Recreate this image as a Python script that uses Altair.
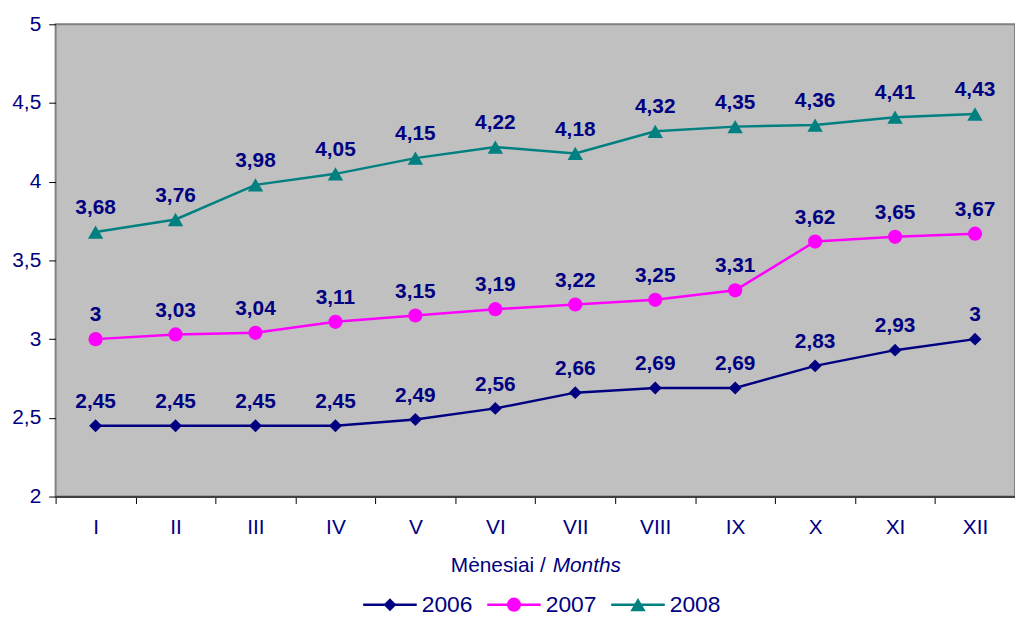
import altair as alt
import pandas as pd

months = ["I", "II", "III", "IV", "V", "VI", "VII", "VIII", "IX", "X", "XI", "XII"]
years = ["2006", "2007", "2008"]
v2006 = [2.45, 2.45, 2.45, 2.45, 2.49, 2.56, 2.66, 2.69, 2.69, 2.83, 2.93, 3]
v2007 = [3, 3.03, 3.04, 3.11, 3.15, 3.19, 3.22, 3.25, 3.31, 3.62, 3.65, 3.67]
v2008 = [3.68, 3.76, 3.98, 4.05, 4.15, 4.22, 4.18, 4.32, 4.35, 4.36, 4.41, 4.43]
y_ticks = [2, 2.5, 3, 3.5, 4, 4.5, 5]

rows = []
for yr, vals in zip(years, [v2006, v2007, v2008]):
    for m, v in zip(months, vals):
        rows.append({"month": m, "year": yr, "value": v})
df = pd.DataFrame(rows)
df_leg = pd.DataFrame({"year": years})

FONT = "Liberation Sans, Arial, sans-serif"
NAVY = "#000080"
colors = ["#000080", "#FF00FF", "#008080"]
shapes = ["diamond", "circle", "triangle-up"]
sizes = [170, 240, 230]

color = alt.Color("year:N", scale=alt.Scale(domain=years, range=colors), legend=None)
shape = alt.Shape("year:N", scale=alt.Scale(domain=years, range=shapes), legend=None)
size = alt.Size("year:N", scale=alt.Scale(domain=years, range=sizes), legend=None)

x = alt.X(
    "month:N", sort=months, title=None,
    scale=alt.Scale(type="band", domain=months, paddingInner=0, paddingOuter=0),
    axis=alt.Axis(labelAngle=0, tickBand="extent", grid=False, tickSize=7, tickColor="#000000",
                  tickWidth=1, domainColor="#404040", domainWidth=2, labelFont=FONT,
                  labelFontSize=21, labelColor=NAVY, labelPadding=13),
)
y = alt.Y(
    "value:Q", title=None,
    scale=alt.Scale(domain=[2, 5], nice=False, zero=False),
    axis=alt.Axis(values=y_ticks, grid=False, tickSize=7, tickColor="#000000", tickWidth=1,
                  domain=False, labelFont=FONT, labelFontSize=21, labelColor=NAVY,
                  labelPadding=8,
                  labelExpr="replace(format(datum.value, '~g'), '.', ',')"),
)

base = alt.Chart(df)
lines = base.mark_line(strokeWidth=2.5).encode(x=x, y=y, color=color, detail="year:N")
points = base.mark_point(filled=True, opacity=1).encode(x=x, y=y, color=color, shape=shape, size=size)
labels = base.mark_text(dy=-24, font=FONT, fontSize=21, fontWeight="bold", color=NAVY).encode(
    x=x, y=y, text="lbl:N"
).transform_calculate(lbl="replace(format(datum.value, '~g'), '.', ',')")
main = alt.layer(lines, points, labels)

# legend built from the series list, positioned by its own point scale
lx = alt.X("year:N", sort=years, title=None,
           scale=alt.Scale(type="point", domain=years, range=[337, 587], padding=0), axis=None)
LY = 585
leg_line = alt.Chart(df_leg).mark_point(shape="M-1,0H1", size=54 ** 2, strokeWidth=2.5,
                                        filled=False, opacity=1).encode(
    x=lx, y=alt.value(LY), color=color)
leg_mark = alt.Chart(df_leg).mark_point(filled=True, opacity=1).encode(
    x=lx, y=alt.value(LY), color=color, shape=shape, size=size)
leg_text = alt.Chart(df_leg).mark_text(align="left", baseline="middle", dx=32, font=FONT,
                                       fontSize=23, color=NAVY).encode(
    x=lx, y=alt.value(LY), text="year:N")
legend = alt.layer(leg_line, leg_mark, leg_text)

t1 = alt.Chart(pd.DataFrame({"t": ["Mėnesiai /"]})).mark_text(
    align="right", baseline="middle", font=FONT, fontSize=21, color=NAVY
).encode(x=alt.value(494), y=alt.value(546), text="t:N")
t2 = alt.Chart(pd.DataFrame({"t": ["Months"]})).mark_text(
    align="left", baseline="middle", font=FONT, fontSize=21, fontStyle="italic", color=NAVY
).encode(x=alt.value(501), y=alt.value(546), text="t:N")

chart = alt.layer(main, legend, t1, t2).resolve_scale(x="independent").properties(
    width=967, height=476,
    autosize=alt.AutoSizeParams(type="none"),
    padding={"left": 48, "top": 14, "right": 0, "bottom": 122},
    background="white",
).configure_view(fill="#C0C0C0", stroke="#808080", strokeWidth=2)

chart.save("out.html", embed_options={"renderer": "svg", "actions": False})
